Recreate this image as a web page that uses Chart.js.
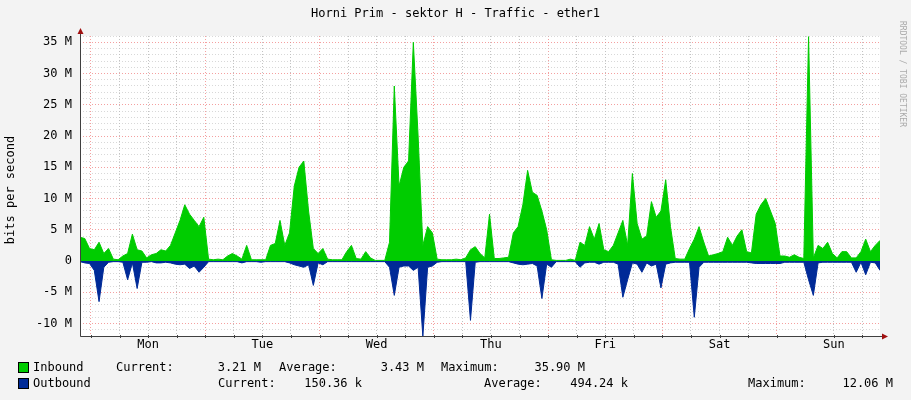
<!DOCTYPE html>
<html><head><meta charset="utf-8">
<script src="https://cdn.jsdelivr.net/npm/chart.js@4"></script>
<style>html,body{margin:0;padding:0;background:#f3f3f3}#w{width:911px;height:400px}</style>
</head><body><div id="w"><canvas id="c" width="911" height="400"></canvas></div>
<script>
const title = "Horni Prim - sektor H - Traffic - ether1";
const dayLabels = ["Mon","Tue","Wed","Thu","Fri","Sat","Sun"];
const firstMidnightHour = 2.3;
// hourly samples, in Mbit/s (hour 0..168)
const inbound = [3.8,3.6,2.0,1.8,3.0,1.2,2.0,0.3,0.2,0.8,1.2,4.3,1.8,1.6,0.5,1.0,1.2,1.8,1.6,2.5,
4.5,6.5,9.0,7.5,6.5,5.5,7.0,0.3,0.2,0.3,0.2,0.8,1.2,0.8,0.3,2.5,0.2,0.2,0.2,0.2,
2.5,2.8,6.5,2.5,4.5,12.0,15.0,16.0,8.0,2.0,1.2,2.0,0.3,0.2,0.2,0.2,1.5,2.5,0.4,0.3,
1.5,0.5,0.1,0.1,0.1,3.0,28.0,12.0,15.0,16.0,35.0,20.0,2.5,5.5,4.5,0.3,0.2,0.2,0.2,0.3,
0.2,0.5,1.8,2.3,1.2,0.5,7.5,0.4,0.4,0.5,0.6,4.5,5.5,9.0,14.5,11.0,10.5,8.0,5.0,0.2,
0.1,0.1,0.1,0.3,0.1,3.0,2.5,5.5,3.5,6.0,1.8,1.5,2.5,4.5,6.5,2.5,14.0,6.0,3.5,4.0,
9.5,7.0,8.0,13.0,5.5,0.4,0.3,0.3,2.0,3.5,5.5,3.0,0.8,1.0,1.2,1.5,3.8,2.5,4.0,5.0,
1.5,1.3,7.5,9.0,10.0,8.0,6.0,0.8,0.8,0.6,1.0,0.6,0.4,35.9,0.5,2.5,2.0,3.0,1.2,0.5,
1.5,1.5,0.5,0.5,1.5,3.5,1.5,2.5,3.3];
const outbound = [-0.1,-0.3,-0.4,-1.5,-6.5,-1.0,-0.2,-0.1,-0.1,-0.2,-3.0,-0.3,-4.4,-0.2,-0.2,-0.1,-0.3,-0.3,-0.2,-0.3,
-0.5,-0.6,-0.5,-1.2,-0.8,-1.8,-1.0,-0.1,-0.1,-0.1,-0.1,-0.1,-0.1,-0.1,-0.3,-0.1,-0.1,-0.1,-0.2,-0.1,
-0.1,-0.1,-0.1,-0.1,-0.3,-0.6,-0.8,-1.0,-0.6,-3.9,-0.3,-0.6,-0.1,-0.1,-0.1,-0.1,-0.1,-0.1,-0.1,-0.1,
-0.1,-0.1,-0.1,-0.1,-0.1,-1.0,-5.5,-1.0,-0.8,-0.8,-1.5,-1.0,-12.06,-1.0,-0.8,-0.2,-0.1,-0.1,-0.1,-0.1,
-0.1,-0.1,-9.5,-0.2,-0.1,-0.1,-0.1,-0.1,-0.1,-0.1,-0.1,-0.3,-0.5,-0.6,-0.5,-0.4,-0.8,-6.0,-0.5,-1.0,
-0.1,-0.1,-0.1,-0.1,-0.1,-1.0,-0.3,-0.2,-0.2,-0.5,-0.2,-0.2,-0.2,-0.5,-5.8,-3.0,-0.3,-0.5,-1.8,-0.3,
-0.8,-0.5,-4.3,-0.5,-0.3,-0.2,-0.2,-0.2,-0.2,-9.0,-1.0,-0.2,-0.2,-0.2,-0.2,-0.2,-0.2,-0.2,-0.2,-0.2,
-0.2,-0.3,-0.4,-0.4,-0.4,-0.4,-0.4,-0.4,-0.2,-0.2,-0.2,-0.2,-0.2,-3.0,-5.5,-0.3,-0.2,-0.2,-0.2,-0.2,
-0.2,-0.2,-0.2,-1.8,-0.2,-2.2,-0.2,-0.3,-1.5];
const legendIn = ["Inbound","Current:","3.21 M","Average:","3.43 M","Maximum:","35.90 M"];
const legendOut = ["Outbound","Current:","150.36 k","Average:","494.24 k","Maximum:","12.06 M"];

const FONT = "DejaVu Sans Mono";
const pts = a => a.map((v,i)=>({x:i,y:v}));

const deco = {
  id:'deco',
  beforeDraw(ch){const c=ch.ctx;c.save();c.fillStyle='#f3f3f3';c.fillRect(0,0,911,400);
    const a=ch.chartArea;c.fillStyle='#fff';c.fillRect(a.left,a.top,a.right-a.left,a.bottom-a.top);c.restore();},
  afterDraw(ch){
    const c=ch.ctx,a=ch.chartArea;
    c.save();
    c.strokeStyle='#404040';c.lineWidth=1;
    c.beginPath();c.moveTo(a.left+0.5,a.top-4);c.lineTo(a.left+0.5,a.bottom+0.5);c.lineTo(a.right+4,a.bottom+0.5);c.stroke();
    c.fillStyle='#a01010';
    c.beginPath();c.moveTo(a.right+8,a.bottom+0.5);c.lineTo(a.right+2,a.bottom-2.5);c.lineTo(a.right+2,a.bottom+3.5);c.fill();
    c.beginPath();c.moveTo(a.left+0.5,a.top-8);c.lineTo(a.left-2.5,a.top-2);c.lineTo(a.left+3.5,a.top-2);c.fill();
    c.strokeStyle='#404040';
    for(let h=firstMidnightHour;h<=168;h+=6){const x=Math.round(ch.scales.x.getPixelForValue(h))+0.5;
      c.beginPath();c.moveTo(x,a.bottom-1);c.lineTo(x,a.bottom+2);c.stroke();}
    c.font='12px '+FONT;c.fillStyle='#000';c.textBaseline='middle';
    c.textAlign='center';c.fillText(title,455.5,14);
    c.save();c.translate(11,190);c.rotate(-Math.PI/2);c.fillText("bits per second",0,0);c.restore();
    c.save();c.fillStyle='#aaaaaa';c.font='8px '+FONT;c.translate(902,74);c.rotate(Math.PI/2);c.fillText("RRDTOOL / TOBI OETIKER",0,0);c.restore();
    c.textAlign='left';
    const row=(y,col,items,xs,rs)=>{c.fillStyle=col;c.fillRect(19,y-5,10,10);c.strokeStyle='#000';c.strokeRect(18.5,y-5.5,10,10);
      c.fillStyle='#000';items.forEach((t,i)=>{c.textAlign=rs[i]?'right':'left';c.fillText(t,xs[i],y);});};
    row(368,'#00cc00',legendIn,[33,116,261,279,424,441,585],[0,0,1,0,1,0,1]);
    row(384,'#002a97',legendOut,[33,218,362,484,628,748,893],[0,0,1,0,1,0,1]);
    c.restore();
  }
};

new Chart(document.getElementById('c'),{
  type:'line',
  data:{datasets:[
    {data:pts(inbound),borderColor:'#00cc00',backgroundColor:'#00cc00',fill:'origin',borderWidth:1,pointRadius:0,tension:0},
    {data:pts(outbound),borderColor:'#002a97',backgroundColor:'#002a97',fill:'origin',borderWidth:1,pointRadius:0,tension:0}
  ]},
  options:{responsive:false,animation:false,devicePixelRatio:1,
    layout:{padding:{top:36,right:31,left:0,bottom:0}},
    plugins:{legend:{display:false},tooltip:{enabled:false}},
    scales:{
      x:{type:'linear',min:0,max:168,
        afterFit(s){s.height=64;},
        afterBuildTicks(s){const t=[];for(let h=firstMidnightHour;h<=168;h+=6)t.push({value:h});s.ticks=t;},
        ticks:{autoSkip:false,maxRotation:0,padding:2,font:{family:FONT,size:12},color:'#000',
          callback(v,i){const k=Math.round((v-firstMidnightHour)/6);return k%4===2?dayLabels[(k-2)/4]:'';}},
        grid:{drawTicks:false,color:c=>{const k=Math.round((c.tick.value-firstMidnightHour)/6);return k%4===0?'rgba(240,120,120,0.7)':'rgba(180,180,180,0.8)';}},
        border:{display:false,dash:[1,2]}},
      y:{min:-12,max:36,
        afterFit(s){s.width=80;},
        afterBuildTicks(s){const t=[];for(let v=-12;v<=36;v++)t.push({value:v});s.ticks=t;},
        ticks:{autoSkip:false,padding:8,font:{family:FONT,size:12},color:'#000',
          callback(v){return v===0?'0':(v%5===0?v+' M':'');}},
        grid:{drawTicks:false,color:c=>c.tick.value%5===0?'rgba(240,120,120,0.7)':'rgba(190,190,190,0.6)'},
        border:{display:false,dash:[1,2]}}
    }}
  ,plugins:[deco]});
</script></body></html>
